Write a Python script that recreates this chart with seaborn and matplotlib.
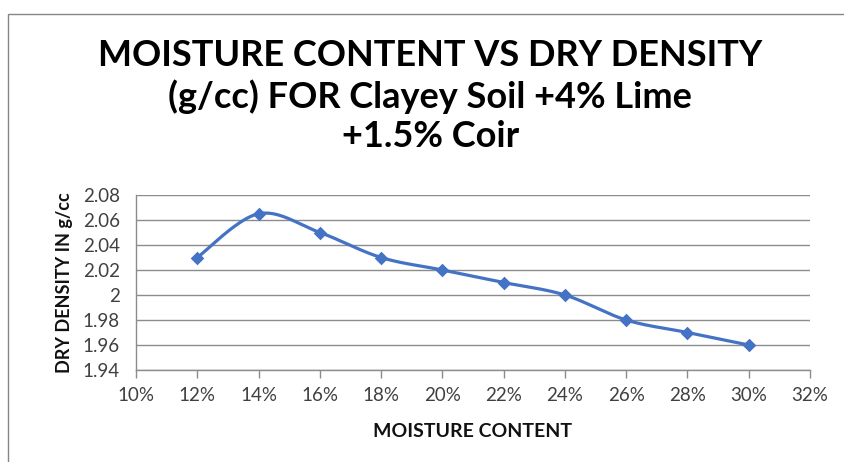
import numpy as np
import pandas as pd
import matplotlib
matplotlib.use("Agg")
import matplotlib.pyplot as plt
import seaborn as sns
from matplotlib.patches import Rectangle
from matplotlib.ticker import FuncFormatter

moisture = [0.12, 0.14, 0.16, 0.18, 0.20, 0.22, 0.24, 0.26, 0.28, 0.30]
density = [2.03, 2.065, 2.05, 2.03, 2.02, 2.01, 2.00, 1.98, 1.97, 1.96]
x_ticks = [0.10, 0.12, 0.14, 0.16, 0.18, 0.20, 0.22, 0.24, 0.26, 0.28, 0.30, 0.32]
y_ticks = [1.94, 1.96, 1.98, 2.00, 2.02, 2.04, 2.06, 2.08]
y_tick_labels = ["1.94", "1.96", "1.98", "2", "2.02", "2.04", "2.06", "2.08"]
title = "MOISTURE CONTENT VS DRY DENSITY\n(g/cc) FOR Clayey Soil +4% Lime\n+1.5% Coir"

sns.set_style("white")
plt.rcParams['font.family'] = ['Lato', 'DejaVu Sans']

color = "#4472C4"

# Smoothed line (Catmull-Rom / Bezier as in spreadsheet smoothing)
P = np.column_stack([moisture, density])
curve = []
n = len(P)
for i in range(n - 1):
    p0 = P[i - 1] if i > 0 else P[i]
    p1 = P[i]
    p2 = P[i + 1]
    p3 = P[i + 2] if i + 2 < n else P[i + 1]
    c1 = p1 + (p2 - p0) / 6.0
    c2 = p2 - (p3 - p1) / 6.0
    t = np.linspace(0, 1, 40)[:, None]
    seg = (1 - t) ** 3 * p1 + 3 * (1 - t) ** 2 * t * c1 + 3 * (1 - t) * t ** 2 * c2 + t ** 3 * p2
    curve.append(seg if i == 0 else seg[1:])
curve = np.vstack(curve)
smooth_df = pd.DataFrame({"x": curve[:, 0], "y": curve[:, 1]})
pts_df = pd.DataFrame({"x": moisture, "y": density})

fig = plt.figure(figsize=(8.45, 4.62), dpi=100)
ax = fig.add_axes([136 / 845, 1 - 370 / 462, (810 - 136) / 845, (370 - 195) / 462])

sns.lineplot(data=smooth_df, x="x", y="y", ax=ax, color=color, linewidth=2.3, sort=False)
sns.scatterplot(data=pts_df, x="x", y="y", ax=ax, color=color, marker="D", s=48,
                edgecolor=color, linewidth=0, zorder=5)

ax.set_xlim(0.10, 0.32)
ax.set_ylim(1.94, 2.08)
ax.set_xticks(x_ticks)
ax.xaxis.set_major_formatter(FuncFormatter(lambda v, p: f"{round(v * 100)}%"))
ax.set_yticks(y_ticks)
ax.set_yticklabels(y_tick_labels)

ax.grid(axis="y", color="#8c8c8c", linewidth=1)
ax.grid(axis="x", visible=False)
ax.set_axisbelow(True)
for s in ["top", "right"]:
    ax.spines[s].set_visible(False)
for s in ["left", "bottom"]:
    ax.spines[s].set_color("#8c8c8c")
    ax.spines[s].set_linewidth(1)

ax.tick_params(axis="x", which="major", bottom=True, length=6, width=1, color="#8c8c8c",
               labelsize=13.5, labelcolor="#404040", pad=6, direction="out")
ax.tick_params(axis="y", left=False, labelsize=13.5, labelcolor="#404040", pad=8)

ax.set_xlabel("MOISTURE CONTENT", fontsize=14, fontweight="bold", color="#111111", labelpad=14)
ax.set_ylabel("DRY DENSITY IN g/cc", fontsize=13, fontweight="bold", color="#111111", labelpad=7)

fig.text(0.509, 1 - 96 / 462, title, ha="center", va="center", fontsize=26,
         fontweight="bold", color="black", linespacing=1.25)

fig.patches.append(Rectangle((8 / 845, -0.1), 1.2, 1 - 14 / 462 + 0.1,
                             transform=fig.transFigure, fill=False,
                             edgecolor="#868686", linewidth=1))

fig.savefig("out.png", dpi=100)
